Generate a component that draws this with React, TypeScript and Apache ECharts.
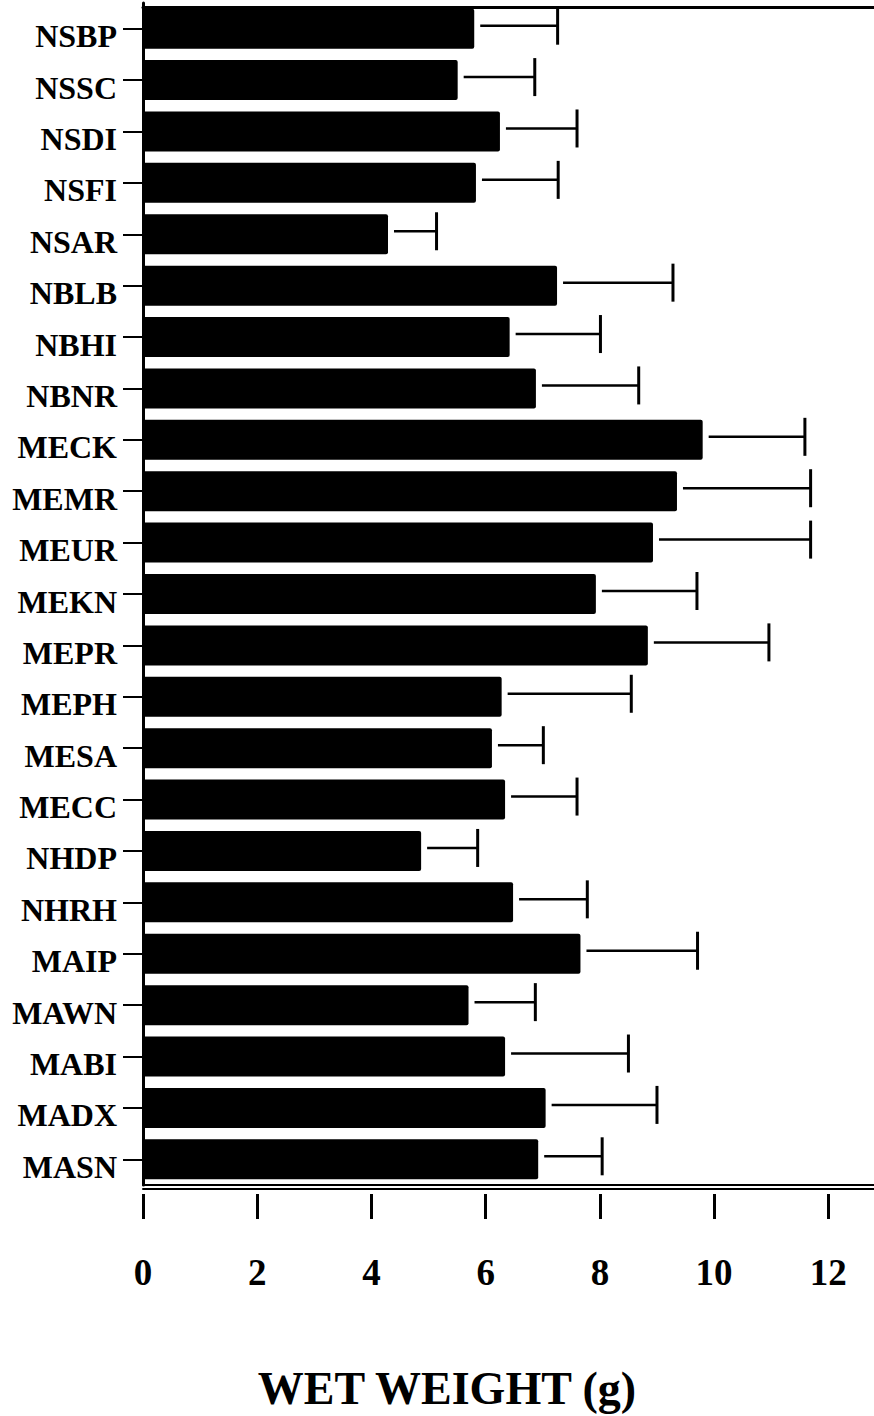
import React, { useEffect, useRef } from "react";
import * as echarts from "echarts";

const categories = [
  "NSBP", "NSSC", "NSDI", "NSFI", "NSAR", "NBLB", "NBHI", "NBNR",
  "MECK", "MEMR", "MEUR", "MEKN", "MEPR", "MEPH", "MESA", "MECC",
  "NHDP", "NHRH", "MAIP", "MAWN", "MABI", "MADX", "MASN",
];
const means = [
  5.80, 5.51, 6.25, 5.83, 4.29, 7.25, 6.42, 6.88,
  9.80, 9.35, 8.93, 7.93, 8.84, 6.28, 6.11, 6.34,
  4.87, 6.48, 7.66, 5.70, 6.34, 7.05, 6.92,
];
const errors = [
  1.46, 1.35, 1.35, 1.44, 0.85, 2.03, 1.59, 1.80,
  1.79, 2.34, 2.76, 1.77, 2.12, 2.27, 0.90, 1.26,
  0.99, 1.30, 2.05, 1.17, 2.16, 1.95, 1.12,
];
const xTicks = [0, 2, 4, 6, 8, 10, 12];
const xMax = 12.8;
const axisTitle = "WET WEIGHT (g)";

const FONT = "'Liberation Serif', 'Times New Roman', serif";

export default function App() {
  const ref = useRef<HTMLDivElement>(null);
  useEffect(() => {
    if (!ref.current) return;
    const chart = echarts.init(ref.current, null, { renderer: "svg" });
    const errData = means.map((m, i) => [m, i, m + errors[i]]);
    const baseX = { type: "value", min: 0, max: xMax, splitLine: { show: false } };
    chart.setOption({
      animation: false,
      backgroundColor: "#fff",
      grid: { left: 143, right: 0, top: 3, bottom: 231, containLabel: false },
      xAxis: [
        {
          ...baseX,
          position: "bottom",
          axisLine: { show: true, lineStyle: { color: "#000", width: 2 } },
          axisTick: { show: false },
          axisLabel: { show: false },
        },
        {
          ...baseX,
          position: "bottom",
          offset: 4,
          axisLine: { show: true, lineStyle: { color: "#000", width: 2 } },
          axisTick: { show: false },
          axisLabel: { show: false },
        },
        {
          ...baseX,
          position: "bottom",
          offset: 9,
          axisLine: { show: false },
          axisTick: {
            show: true,
            customValues: xTicks,
            length: 25,
            lineStyle: { color: "#000", width: 3 },
          },
          axisLabel: {
            show: true,
            customValues: xTicks,
            margin: 60,
            fontSize: 37,
            lineHeight: 37,
            fontWeight: "bold",
            fontFamily: FONT,
            color: "#000",
          },
        },
        {
          ...baseX,
          position: "top",
          offset: -4.5,
          axisLine: { show: true, lineStyle: { color: "#000", width: 3 } },
          axisTick: { show: false },
          axisLabel: { show: false },
        },
      ],
      yAxis: {
        type: "category",
        data: categories,
        inverse: true,
        axisLine: { show: true, lineStyle: { color: "#000", width: 3 } },
        axisTick: {
          show: true,
          alignWithLabel: true,
          length: 20,
          lineStyle: { color: "#000", width: 2 },
        },
        axisLabel: {
          margin: 26,
          fontSize: 32,
          lineHeight: 15,
          verticalAlign: "top",
          fontWeight: "bold",
          fontFamily: FONT,
          color: "#000",
        },
        splitLine: { show: false },
      },
      series: [
        {
          type: "bar",
          data: means,
          xAxisIndex: 0,
          barWidth: 40,
          itemStyle: { color: "#000", borderRadius: 2 },
        },
        {
          type: "custom",
          xAxisIndex: 0,
          data: errData,
          encode: { x: [0, 2], y: 1 },
          renderItem: (params: any, api: any) => {
            const idx = api.value(1);
            const start = api.coord([api.value(0), idx]);
            const end = api.coord([api.value(2), idx]);
            const y = start[1] - 3;
            const half = 19;
            return {
              type: "group",
              children: [
                {
                  type: "line",
                  shape: { x1: start[0] + 6, y1: y, x2: end[0], y2: y },
                  style: { stroke: "#000", lineWidth: 2.5 },
                },
                {
                  type: "line",
                  shape: { x1: end[0], y1: y - half, x2: end[0], y2: y + half },
                  style: { stroke: "#000", lineWidth: 3 },
                },
              ],
            };
          },
          z: 3,
        },
      ],
      graphic: [
        {
          type: "text",
          x: 447,
          y: 1388,
          style: {
            text: axisTitle,
            fontSize: 46,
            fontWeight: "bold",
            fontFamily: FONT,
            fill: "#000",
            textAlign: "center",
            textVerticalAlign: "middle",
          },
        },
      ],
    });
    return () => chart.dispose();
  }, []);
  return (
    <div
      ref={ref}
      style={{ position: "absolute", left: 0, top: 0, width: 874, height: 1416, background: "#fff" }}
    />
  );
}
